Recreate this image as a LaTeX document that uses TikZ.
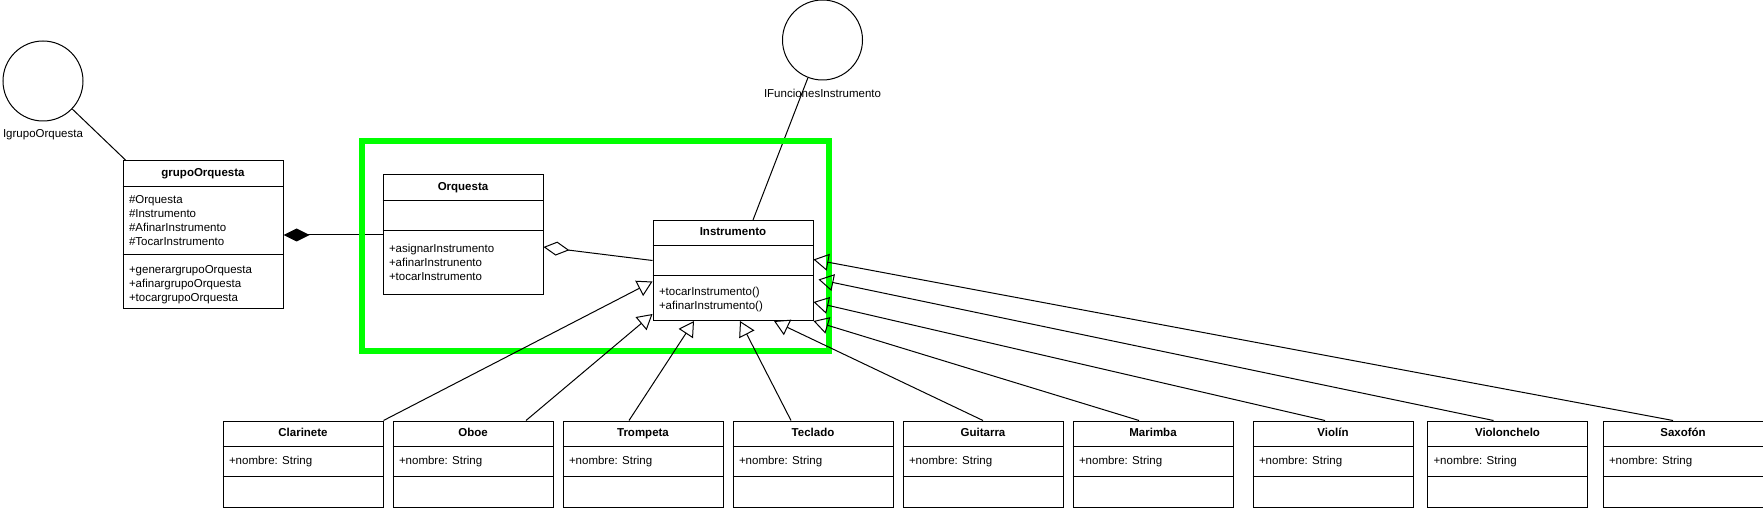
\documentclass[tikz,border=0pt]{standalone}
\usepackage{fontspec}
\setmainfont{Liberation Sans}
\usetikzlibrary{arrows.meta, positioning, calc}
\definecolor{framegreen}{HTML}{00FF00}

% class box: name, left, top, attribute height, method height, title
\newcommand{\umlclass}[6]{%
  \node[classbox, minimum height=26pt+#4pt+#5pt] (#1) at (#2,#3) {};
  \node[classtitle] (#1-t) at ($(#1.north)+(0,13)$) {#6};
  \draw ($(#1.north west)+(0,26)$) -- ($(#1.north east)+(0,26)$);
  \draw ($(#1.north west)+(0,26+#4)$) -- ($(#1.north east)+(0,26+#4)$);
  \coordinate (#1-a) at ($(#1.north west)+(6,26+#4/2)$);
  \coordinate (#1-m) at ($(#1.north west)+(6,26+#4+#5/2)$);
}

\begin{document}
\begin{tikzpicture}[
    x=1pt, y=-1pt,
    line width=1pt,
    classbox/.style={draw, minimum width=160pt, anchor=north west, inner sep=0pt},
    classtitle/.style={font=\fontsize{11.5}{14}\selectfont\bfseries, inner sep=0pt,
                       text height=8.5pt, text depth=2.5pt},
    member/.style={anchor=west, align=left, inner sep=0pt, font=\fontsize{11.5}{14}\selectfont},
    iface/.style={draw, circle, minimum size=80pt, inner sep=0pt},
    ifacelbl/.style={font=\fontsize{11.5}{14}\selectfont, inner sep=0pt},
    inherit/.style={-{Triangle[open, length=15pt, width=17pt]}},
    compo/.style={{Diamond[length=26pt, width=13pt]}-},
    aggr/.style={{Diamond[open, length=26pt, width=14pt]}-},
    greenframe/.style={draw=framegreen, line width=6pt},
  ]
  \useasboundingbox (0,0) rectangle (1763,510);

  % Interfaces
  \node[iface] (igrupo) at (43,81) {};
  \node[ifacelbl, below=7pt of igrupo] (igrupo-lbl) {IgrupoOrquesta};
  \node[iface] (ifunc) at (822.5,40) {};
  \node[ifacelbl, below=8pt of ifunc] (ifunc-lbl) {IFuncionesInstrumento};

  % grupoOrquesta
  \umlclass{grupo}{122.5}{160.5}{68}{54}{grupoOrquesta}
  \node[member] at (grupo-a) {\#Orquesta\\\#Instrumento\\\#AfinarInstrumento\\\#TocarInstrumento};
  \node[member] at ($(grupo-m)+(0,3)$) {+generargrupoOrquesta\\+afinargrupoOrquesta\\+tocargrupoOrquesta};

  % Orquesta
  \umlclass{orq}{382.5}{174.5}{30}{64}{Orquesta}
  \node[member] at (orq-m) {+asignarInstrumento\\+afinarInstrunento\\+tocarInstrumento};

  % Instrumento
  \umlclass{instr}{652.5}{220}{30}{44}{Instrumento}
  \node[member] at ($(instr-m)+(0,2)$) {+tocarInstrumento()\\+afinarInstrumento()};

  % Instruments
  \foreach \name/\title/\x in {clarinete/Clarinete/222.5, oboe/Oboe/392.5,
      trompeta/Trompeta/562.5, teclado/Teclado/732.5, guitarra/Guitarra/902.5,
      marimba/Marimba/1072.5, violin/Violín/1252.5, violonchelo/Violonchelo/1427,
      saxofon/Saxofón/1602.5} {
    \umlclass{\name}{\x}{420.5}{30}{30}{\title}
    \node[member] at (\name-a) {+nombre: String};
  }

  % Interface links
  \draw (igrupo) -- ([xshift=3.5pt]grupo.north west);
  \draw (ifunc) -- ([xshift=20pt]instr.north);

  % Composition and aggregation
  \draw[compo] (grupo.east) -- (orq.west);
  \draw[aggr] ([yshift=-12pt]orq.east) -- ([yshift=10pt]instr.west);

  % Frame
  \draw[greenframe] (362,141.5) rectangle (829,350.5);

  % Inheritance
  \draw[inherit] (clarinete.north east) -- ([yshift=-11pt]instr.west);
  \draw[inherit] ([xshift=53pt]oboe.north) -- ([yshift=7pt]instr.south west);
  \draw[inherit] ([xshift=-14pt]trompeta.north) -- ([xshift=-39pt]instr.south);
  \draw[inherit] ([xshift=-22pt]teclado.north) -- ([xshift=7pt]instr.south);
  \draw[inherit] (guitarra.north) -- ([xshift=41pt]instr.south);
  \draw[inherit] ([xshift=-14pt]marimba.north) -- (instr.south east);
  \draw[inherit] ([xshift=-8pt]violin.north) -- ([yshift=19pt]instr.south east);
  \draw[inherit] ([xshift=-14pt]violonchelo.north) -- ([xshift=5pt, yshift=-9pt]instr.east);
  \draw[inherit] ([xshift=-10pt]saxofon.north) -- ([yshift=11pt]instr.east);

\end{tikzpicture}
\end{document}
